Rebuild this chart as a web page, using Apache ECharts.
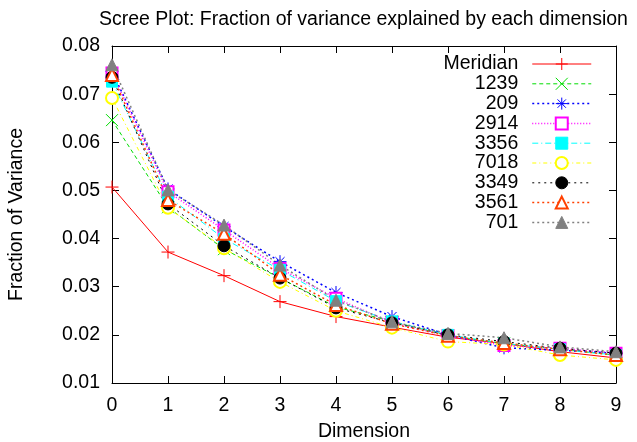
<!DOCTYPE html>
<html>
<head>
<meta charset="utf-8">
<script src="https://cdn.jsdelivr.net/npm/echarts@6/dist/echarts.min.js"></script>
<style>html,body{margin:0;padding:0;background:#fff}#c{width:637px;height:442px}</style>
</head>
<body>
<div id="c"></div>
<script>
var dimensions = [0, 1, 2, 3, 4, 5, 6, 7, 8, 9];
var seriesNames = ['Meridian', '1239', '209', '2914', '3356', '7018', '3349', '3561', '701'];
var meridian = [0.0507, 0.0372, 0.0323, 0.0269, 0.0238, 0.0216, 0.0195, 0.0182, 0.0165, 0.0152];
var s1239    = [0.0646, 0.0465, 0.0378, 0.0318, 0.0258, 0.0228, 0.0198, 0.0182, 0.0170, 0.0158];
var s209     = [0.0747, 0.0503, 0.0425, 0.0352, 0.0288, 0.0238, 0.0200, 0.0173, 0.0168, 0.0162];
var s2914    = [0.0744, 0.0497, 0.0418, 0.0338, 0.0276, 0.0225, 0.0198, 0.0178, 0.0172, 0.0162];
var s3356    = [0.0726, 0.0487, 0.0400, 0.0335, 0.0270, 0.0228, 0.0200, 0.0182, 0.0170, 0.0158];
var s7018    = [0.0692, 0.0464, 0.0380, 0.0310, 0.0250, 0.0215, 0.0186, 0.0180, 0.0158, 0.0148];
var s3349    = [0.0735, 0.0472, 0.0385, 0.0318, 0.0256, 0.0225, 0.0200, 0.0186, 0.0172, 0.0162];
var s3561    = [0.0740, 0.0480, 0.0410, 0.0325, 0.0262, 0.0223, 0.0198, 0.0183, 0.0170, 0.0158];
var s701     = [0.0761, 0.0501, 0.0428, 0.0345, 0.0272, 0.0227, 0.0203, 0.0194, 0.0175, 0.0165];
var seriesValues = [meridian, s1239, s209, s2914, s3356, s7018, s3349, s3561, s701];
var xTicks = [0, 1, 2, 3, 4, 5, 6, 7, 8, 9];
var yTicks = [0.01, 0.02, 0.03, 0.04, 0.05, 0.06, 0.07, 0.08];

var FONT = 'Liberation Sans';
var FS = 19.5;
var PLUS = 'path://M5,0L5,10M0,5L10,5';
var CROSS = 'path://M0,0L10,10M10,0L0,10';
var STAR = 'path://M5,0L5,10M0,5L10,5M1.5,1.5L8.5,8.5M8.5,1.5L1.5,8.5';
var styles = [
  {color: '#ff0000', symbol: PLUS, size: 13, dash: 'solid', w: 1},
  {color: '#00dd00', symbol: CROSS, size: 12, dash: [4, 3], w: 1},
  {color: '#0000ff', symbol: STAR, size: 13, dash: [2, 3], w: 1.5},
  {color: '#ff00ff', symbol: 'emptyRect', size: 11, dash: [1, 2], w: 1.5},
  {color: '#00ffff', symbol: 'rect', size: 11, dash: [6, 3, 1, 3], w: 1},
  {color: '#ffff00', symbol: 'emptyCircle', size: 12, dash: [4, 3, 1, 3], w: 1},
  {color: '#000000', symbol: 'circle', size: 12, dash: [2, 4], w: 1},
  {color: '#ff4000', symbol: 'emptyTriangle', size: 12, dash: [2, 3], w: 1.5},
  {color: '#808080', symbol: 'triangle', size: 12, dash: [2, 3], w: 1.5}
];

var series = seriesNames.map(function (name, i) {
  var st = styles[i];
  return {
    name: name,
    type: 'line',
    xAxisIndex: 0,
    yAxisIndex: 0,
    data: dimensions.map(function (d, j) { return [d, seriesValues[i][j]]; }),
    symbol: st.symbol,
    symbolSize: st.size,
    showAllSymbol: true,
    animation: false,
    lineStyle: {color: st.color, width: st.w, type: st.dash},
    itemStyle: {color: st.symbol.indexOf('path') === 0 ? 'rgba(0,0,0,0)' : st.color, borderColor: st.color, borderWidth: 1},
    emphasis: {disabled: true}
  };
});

var legendData = seriesNames.map(function (name, i) {
  var st = styles[i];
  return {
    name: name,
    lineStyle: {color: st.color, width: st.w, type: st.dash},
    itemStyle: {color: st.symbol.indexOf('path') === 0 ? 'rgba(0,0,0,0)' : st.color, borderColor: st.color, borderWidth: 1}
  };
});

var axisCommon = {
  axisLine: {show: true, onZero: false, lineStyle: {color: '#000', width: 1}},
  axisTick: {show: true, inside: true, length: 7, lineStyle: {color: '#000', width: 1}},
  splitLine: {show: false}
};

var chart = echarts.init(document.getElementById('c'), null, {renderer: 'canvas'});
chart.setOption({
  backgroundColor: '#fff',
  animation: false,
  title: {
    text: 'Scree Plot: Fraction of variance explained by each dimension',
    left: 94, top: 5,
    textStyle: {fontFamily: FONT, fontSize: FS, fontWeight: 'normal', color: '#000'}
  },
  legend: {
    data: legendData,
    orient: 'vertical',
    align: 'right',
    right: 45, top: 54,
    padding: 0,
    itemWidth: 59, itemHeight: 15, itemGap: -0.2,
    selectedMode: false,
    textStyle: {fontFamily: FONT, fontSize: FS, color: '#000', lineHeight: 15, padding: [0, 9, 0, 0]}
  },
  grid: {left: 112, right: 21, top: 46, bottom: 59, containLabel: false, outerBoundsMode: 'none'},
  xAxis: [
    Object.assign({}, axisCommon, {
      type: 'value', position: 'bottom', min: xTicks[0], max: xTicks[xTicks.length - 1], interval: 1,
      name: 'Dimension', nameLocation: 'middle', nameGap: 39,
      nameTextStyle: {fontFamily: FONT, fontSize: FS, color: '#000'},
      axisLabel: {fontFamily: FONT, fontSize: FS, color: '#000', margin: 13}
    }),
    Object.assign({}, axisCommon, {
      type: 'value', position: 'top', min: xTicks[0], max: xTicks[xTicks.length - 1], interval: 1,
      axisLabel: {show: false}
    })
  ],
  yAxis: [
    Object.assign({}, axisCommon, {
      type: 'value', position: 'left', min: yTicks[0], max: yTicks[yTicks.length - 1], interval: 0.01,
      name: 'Fraction of Variance', nameLocation: 'middle', nameGap: 85,
      nameTextStyle: {fontFamily: FONT, fontSize: FS, color: '#000'},
      axisLabel: {fontFamily: FONT, fontSize: FS, color: '#000', margin: 12, formatter: function (v) { return v.toFixed(2); }}
    }),
    Object.assign({}, axisCommon, {
      type: 'value', position: 'right', min: yTicks[0], max: yTicks[yTicks.length - 1], interval: 0.01,
      axisLabel: {show: false}
    })
  ],
  series: series
});
</script>
</body>
</html>
